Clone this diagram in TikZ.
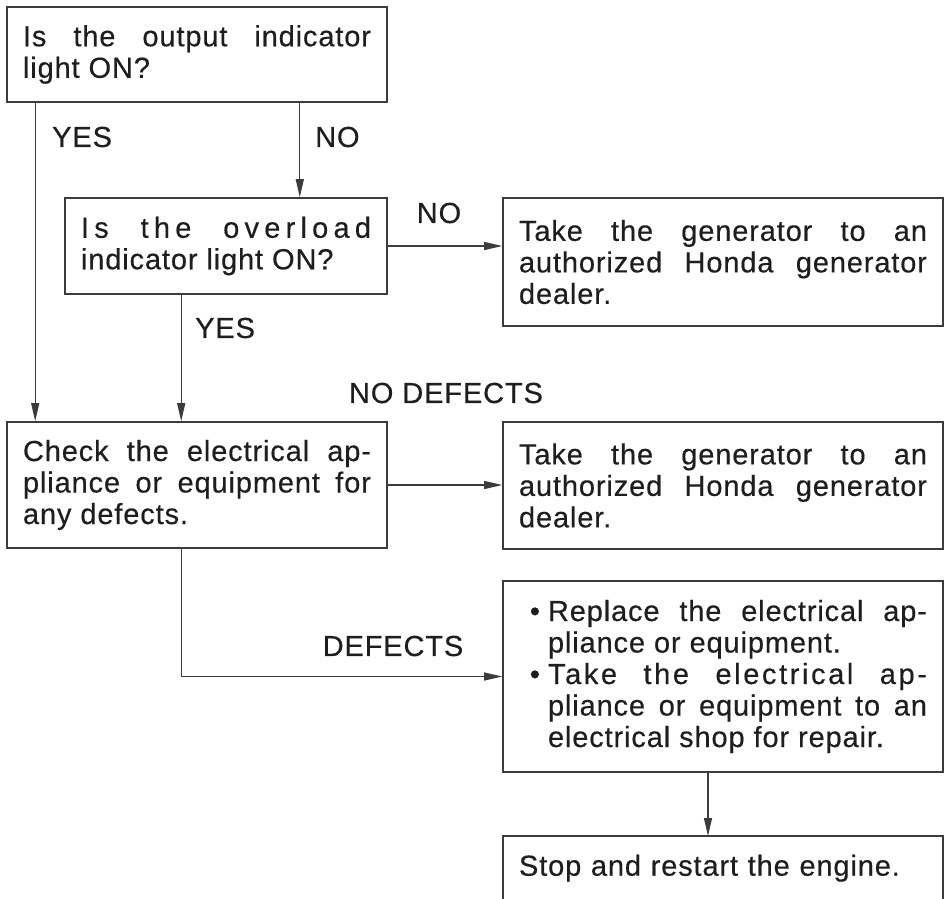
\documentclass[tikz,border=0pt]{standalone}
\usepackage{fontspec}
\setmainfont{Liberation Sans}[LetterSpace=3, FakeBold=0.4]
\usetikzlibrary{arrows.meta}
\definecolor{ink}{HTML}{1E1E1E}
\definecolor{rule}{HTML}{3C3C3C}

\begin{document}
\begin{tikzpicture}[x=1pt, y=-1pt,
  every node/.style={font=\fontsize{29}{31.5}\selectfont, text=ink},
  stepbox/.style={draw=rule, line width=1.6pt, inner xsep=16pt, inner ysep=0pt, align=justify},
  tag/.style={inner sep=0pt},
  flow/.style={draw=rule, line width=1.2pt, -{Triangle[length=18pt,width=8pt]}}]
  \useasboundingbox (0,0) rectangle (945,898);
  % questions
  \node[stepbox, text width=348pt, minimum height=95pt] (out) at (197,54.5) {Is the output indicator\linebreak light ON?};
  \node[stepbox, text width=290pt, minimum height=96pt] (over) at (226,246) {{\addfontfeature{LetterSpace=18}Is the overload}\linebreak indicator light ON?};
  \node[stepbox, text width=348pt, minimum height=126pt] (check) at (197,485) {Check the electrical ap-\linebreak pliance or equipment for\linebreak any defects.};
  % actions
  \node[stepbox, text width=408pt, minimum height=128pt] (deal1) at (723,262) {Take the generator to an\linebreak authorized Honda generator\linebreak dealer.};
  \node[stepbox, text width=408pt, minimum height=127pt] (deal2) at (723,485.5) {Take the generator to an\linebreak authorized Honda generator\linebreak dealer.};
  \node[stepbox, text width=408pt, minimum height=191pt] (fix) at (723,676.5) {\leftskip=29pt
    \leavevmode\llap{\textbullet\hspace{8pt}}Replace the electrical ap-\linebreak pliance or equipment.\par
    \leavevmode\llap{\textbullet\hspace{8pt}}{\addfontfeature{LetterSpace=9}Take the electrical ap-}\linebreak pliance or equipment to an\linebreak electrical shop for repair.\par};
  \node[inner xsep=16pt, inner ysep=0pt, text width=408pt, align=left, minimum width=440pt, minimum height=64pt, anchor=north] (stop) at (723,836) {Stop and restart the engine.};
  \draw[rule, line width=1.6pt] (stop.south west) -- (stop.north west) -- (stop.north east) -- (stop.south east);
  % answers
  \node[tag, anchor=west] (yes1) at (52,137) {YES};
  \node[tag, anchor=west] (no1) at (315,137) {NO};
  \node[tag] (no2) at (439,213) {NO};
  \node[tag, anchor=west] (yes2) at (195,328) {YES};
  \node[tag] (nodef) at (446,393) {NO DEFECTS};
  \node[tag] (def) at (393,646) {DEFECTS};
  % connectors
  \draw[flow] ([xshift=29pt]out.south west) -- ([xshift=29pt]check.north west);
  \draw[flow] ([xshift=-88pt]out.south east) -- ([xshift=-88pt]over.north east);
  \draw[flow] (over.east) -- (over.east -| deal1.west);
  \draw[flow] ([xshift=117pt]over.south west) -- ([xshift=117pt]over.south west |- check.north);
  \draw[flow] (check.east) -- (check.east -| deal2.west);
  \draw[flow] ([xshift=175pt]check.south west) |- (fix.west);
  \draw[flow] ([xshift=-15pt]fix.south) -- ([xshift=-15pt]fix.south |- stop.north);
\end{tikzpicture}
\end{document}
